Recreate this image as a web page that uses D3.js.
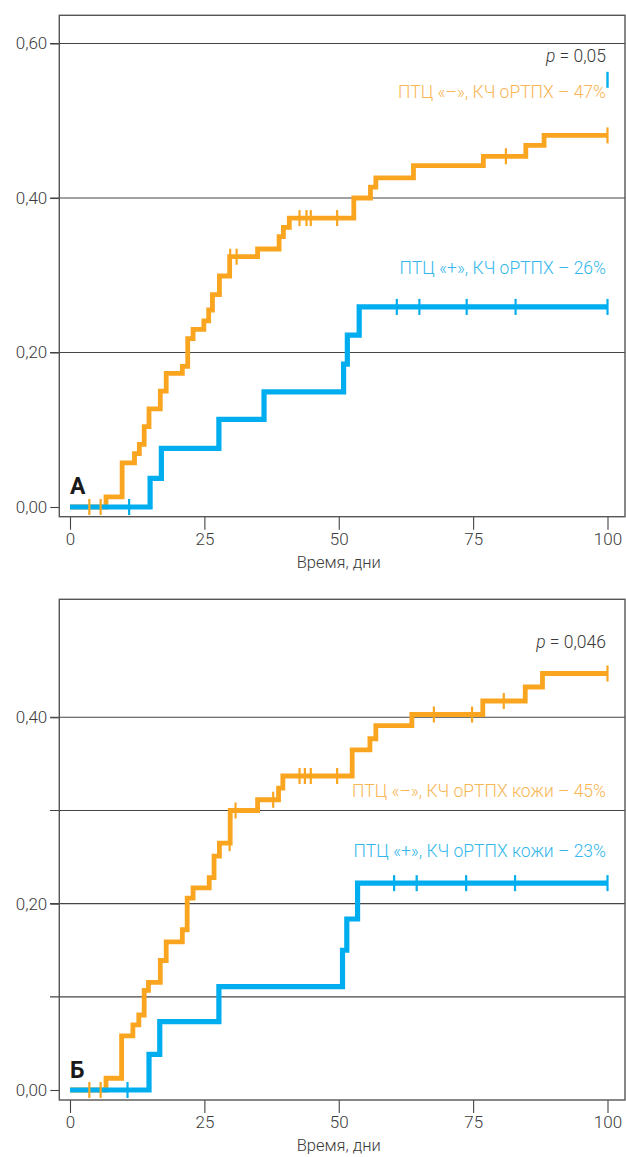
<!DOCTYPE html>
<html>
<head>
<meta charset="utf-8">
<script src="https://cdn.jsdelivr.net/npm/d3@7"></script>
<style>
  html, body { margin: 0; padding: 0; background: #fff; }
  svg { display: block; }
  text { font-family: Roboto, "Noto Sans", sans-serif; font-weight: 300; }
</style>
</head>
<body>
<svg id="chart" width="626" height="1157"></svg>
<script>
// Cumulative incidence of aGVHD, days after transplant
// Panel A: aGVHD overall
const aNegDays  = [0, 6.7, 9.7, 12.0, 12.9, 13.8, 14.7, 16.8, 17.9, 20.9, 21.9, 22.9, 24.9, 25.8, 26.5, 27.8, 29.7, 34.9, 38.9, 39.7, 40.8, 52.8, 55.9, 56.9, 63.9, 76.9, 84.8, 88.2, 100];
const aNegRisk  = [0, 0.013, 0.057, 0.069, 0.081, 0.104, 0.127, 0.150, 0.173, 0.182, 0.218, 0.230, 0.241, 0.255, 0.275, 0.299, 0.324, 0.334, 0.350, 0.362, 0.374, 0.400, 0.414, 0.426, 0.442, 0.454, 0.468, 0.481, 0.481];
const aNegCensored = [3.6, 5.7, 29.8, 31.0, 42.7, 44.0, 44.8, 49.7, 81.1, 100];
const aPosDays  = [0, 14.9, 17.0, 27.7, 36.1, 50.9, 51.6, 53.8, 100];
const aPosRisk  = [0, 0.037, 0.076, 0.1135, 0.149, 0.185, 0.2226, 0.259, 0.259];
const aPosCensored = [11.0, 60.8, 65.0, 73.8, 82.9, 100];

// Panel B: skin aGVHD
const bNegDays  = [0, 6.7, 9.6, 11.7, 12.8, 13.8, 14.6, 16.8, 17.9, 20.9, 21.8, 22.9, 25.9, 26.8, 27.8, 29.8, 34.9, 38.8, 39.6, 52.5, 55.8, 56.9, 63.6, 76.8, 84.7, 87.9, 100];
const bNegRisk  = [0, 0.0126, 0.058, 0.070, 0.0805, 0.107, 0.1155, 0.139, 0.159, 0.172, 0.206, 0.217, 0.228, 0.251, 0.265, 0.300, 0.3115, 0.324, 0.337, 0.365, 0.377, 0.391, 0.403, 0.4175, 0.4325, 0.447, 0.447];
const bNegCensored = [3.6, 5.7, 29.7, 30.8, 37.8, 42.7, 43.7, 44.8, 49.7, 67.7, 74.8, 80.7, 100];
const bPosDays  = [0, 14.7, 16.7, 27.7, 50.7, 51.5, 53.5, 100];
const bPosRisk  = [0, 0.0383, 0.0733, 0.111, 0.150, 0.1835, 0.222, 0.222];
const bPosCensored = [10.7, 60.3, 64.5, 73.7, 82.8, 100];

const xTicks = [0, 25, 50, 75, 100];
const aYTicks = [0, 0.2, 0.4, 0.6];
const aGrid = [0.2, 0.4, 0.6];
const bYTicks = [0, 0.2, 0.4];
const bGrid = [0.1, 0.2, 0.3, 0.4];

const xTitle = "Время, дни";
const aPValue = "0,05";
const bPValue = "0,046";
const aNegLabel = "ПТЦ «–», КЧ оРТПХ – 47%";
const aPosLabel = "ПТЦ «+», КЧ оРТПХ – 26%";
const bNegLabel = "ПТЦ «–», КЧ оРТПХ кожи – 45%";
const bPosLabel = "ПТЦ «+», КЧ оРТПХ кожи – 23%";

const ORANGE = "#F9A51F";
const ORANGE_TEXT = "#F8B553";
const BLUE = "#00AEEF";
const BLUE_TEXT = "#33B7EC";
const INK = "#3a3a3a";

const svg = d3.select("#chart");
const x = d3.scaleLinear().domain([0, 100]).range([70, 607.5]);

function stepValue(days, risk, t) {
  const i = d3.bisectRight(days, t) - 1;
  return risk[Math.max(0, i)];
}

function panel(opt) {
  const g = svg.append("g");
  const y = d3.scaleLinear().domain([0, opt.yMax]).range([opt.y0, opt.yTop]);
  const left = 59.3, right = 625;

  // gridlines (extend left as ticks)
  g.selectAll("line.grid").data(opt.grid).join("line")
    .attr("x1", 50).attr("x2", right)
    .attr("y1", d => y(d)).attr("y2", d => y(d))
    .attr("stroke", "#444").attr("stroke-width", 1.1);

  // y axis
  const ya = g.append("g").attr("transform", `translate(${left},0)`)
    .call(d3.axisLeft(y).tickValues(opt.yTicks).tickSize(9).tickPadding(3)
      .tickFormat(d => d3.format(".2f")(d).replace(".", ",")));
  ya.select(".domain").remove();
  ya.selectAll("line").attr("stroke", "#444").attr("stroke-width", 1.1);
  ya.selectAll("text").attr("fill", INK).style("font-size", "17px")
    .style("font-family", "Roboto, sans-serif").style("font-weight", 300);

  // x axis
  const xa = g.append("g").attr("transform", `translate(0,${opt.axisY})`)
    .call(d3.axisBottom(x).tickValues(xTicks).tickSize(13).tickPadding(3));
  xa.select(".domain").remove();
  xa.selectAll("line").attr("stroke", "#444").attr("stroke-width", 1.1);
  xa.selectAll("text").attr("fill", INK).style("font-size", "17px")
    .style("font-family", "Roboto, sans-serif").style("font-weight", 300);

  // frame
  g.append("rect").attr("x", left).attr("y", opt.boxTop)
    .attr("width", right - left).attr("height", opt.axisY - opt.boxTop)
    .attr("fill", "none").attr("stroke", "#555").attr("stroke-width", 1.4);

  g.append("text").attr("x", x(50)).attr("y", opt.axisY + 51)
    .attr("text-anchor", "middle").attr("fill", INK).style("font-size", "16.5px")
    .text(xTitle);

  const line = d3.line().curve(d3.curveStepAfter).x(d => x(d[0])).y(d => y(d[1]));

  const series = [
    { days: opt.negDays, risk: opt.negRisk, cens: opt.negCens, color: ORANGE, w: 4.8 },
    { days: opt.posDays, risk: opt.posRisk, cens: opt.posCens, color: BLUE, w: 5.2 }
  ];
  series.forEach(s => {
    g.append("path").datum(d3.zip(s.days, s.risk)).attr("d", line)
      .attr("fill", "none").attr("stroke", s.color).attr("stroke-width", s.w)
      .attr("stroke-linejoin", "miter").attr("stroke-linecap", "butt");
  });
  series.forEach(s => {
    g.selectAll(null).data(s.cens).join("line")
      .attr("x1", d => x(d)).attr("x2", d => x(d))
      .attr("y1", d => y(stepValue(s.days, s.risk, d)) - 8)
      .attr("y2", d => y(stepValue(s.days, s.risk, d)) + 8)
      .attr("stroke", s.color).attr("stroke-width", 2.2);
  });

  if (opt.extraMark) {
    g.append("line").attr("x1", x(opt.extraMark[0])).attr("x2", x(opt.extraMark[0]))
      .attr("y1", y(opt.extraMark[1]) - 8).attr("y2", y(opt.extraMark[1]) + 8)
      .attr("stroke", BLUE).attr("stroke-width", 2.4);
  }

  // annotations
  const p = g.append("text").attr("x", 606).attr("y", opt.pY)
    .attr("text-anchor", "end").attr("fill", INK).style("font-size", "17.5px");
  p.append("tspan").style("font-style", "italic").text("p");
  p.append("tspan").text(" = " + opt.p);

  g.append("text").attr("x", 606).attr("y", opt.negLabelY).attr("text-anchor", "end")
    .attr("fill", ORANGE_TEXT).style("font-size", "17.5px").text(opt.negLabel);
  g.append("text").attr("x", 606).attr("y", opt.posLabelY).attr("text-anchor", "end")
    .attr("fill", BLUE_TEXT).style("font-size", "17.5px").text(opt.posLabel);

  g.append("text").attr("x", 70).attr("y", opt.letterY)
    .attr("fill", "#1a1a1a").style("font-size", "23px").style("font-weight", 700)
    .style("font-family", "Roboto, sans-serif").text(opt.letter);
}

panel({
  yMax: 0.6, y0: 507, yTop: 43.5, boxTop: 15.3, axisY: 516.7,
  yTicks: aYTicks, grid: aGrid,
  negDays: aNegDays, negRisk: aNegRisk, negCens: aNegCensored,
  posDays: aPosDays, posRisk: aPosRisk, posCens: aPosCensored,
  extraMark: [100, 0.553],
  p: aPValue, pY: 61.5, negLabel: aNegLabel, negLabelY: 97.5,
  posLabel: aPosLabel, posLabelY: 274, letter: "А", letterY: 494
});

panel({
  yMax: 0.4, y0: 1090, yTop: 717.3, boxTop: 599.3, axisY: 1100,
  yTicks: bYTicks, grid: bGrid,
  negDays: bNegDays, negRisk: bNegRisk, negCens: bNegCensored,
  posDays: bPosDays, posRisk: bPosRisk, posCens: bPosCensored,
  p: bPValue, pY: 647.5, negLabel: bNegLabel, negLabelY: 797,
  posLabel: bPosLabel, posLabelY: 857, letter: "Б", letterY: 1078
});
</script>
</body>
</html>
